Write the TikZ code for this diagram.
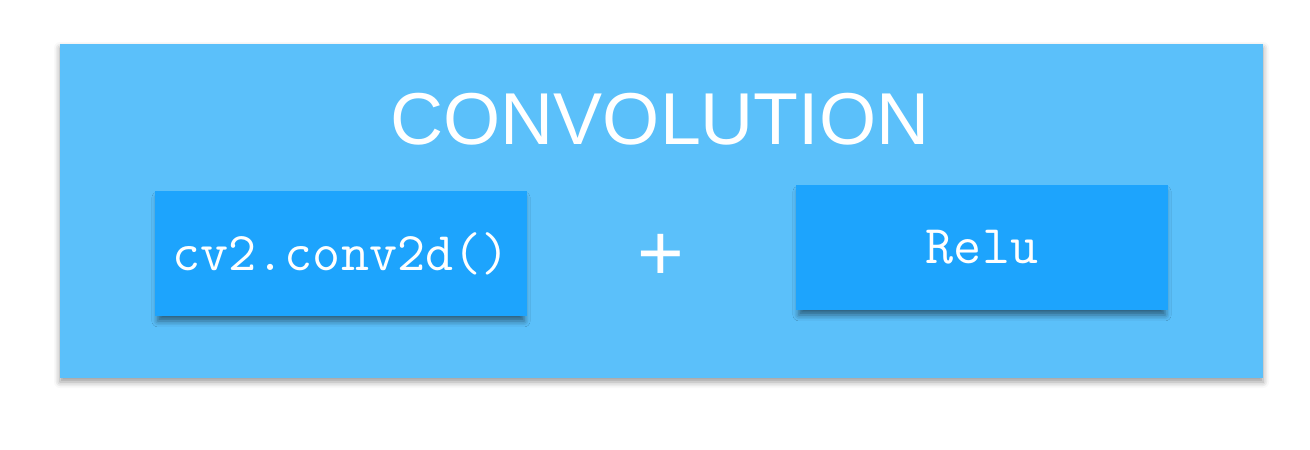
\documentclass[tikz,border=0pt]{standalone}
\usepackage{fontspec}
\setmainfont{Liberation Sans}
\usetikzlibrary{shadows.blur}
\definecolor{nenngoai}{RGB}{91,192,250}
\definecolor{nentrong}{RGB}{29,164,253}
\begin{document}
\begin{tikzpicture}[x=1pt, y=-1pt, line join=round,
	khung/.style={fill=nentrong, text=white, inner sep=0pt,
		minimum width=372pt, minimum height=125pt,
		font=\fontsize{54.5}{58}\selectfont\ttfamily,
		blur shadow={shadow xshift=0pt, shadow yshift=-6pt, shadow scale=0.985,
			shadow blur radius=6pt, shadow opacity=50}}]
	\useasboundingbox (0,0) rectangle (1310,450);
	% nen ngoai
	\node[fill=nenngoai, inner sep=0pt, minimum width=1203pt, minimum height=334pt,
		blur shadow={shadow xshift=0pt, shadow yshift=-4pt,
			shadow blur radius=6pt, shadow opacity=40}] (conv) at (661.5,211) {};
	\node[text=white, font=\fontsize{73.5}{80}\selectfont] (title) at (660,119) {CONVOLUTION};
	% hai khoi
	\node[khung] (cv) at (341,253.5) {cv2.conv2d()};
	\node[khung] (relu) at (982,247.5) {Relu};
	\node[text=white, inner sep=0pt, font=\fontsize{80}{84}\selectfont] (cong) at (661,257) {+};
\end{tikzpicture}
\end{document}
